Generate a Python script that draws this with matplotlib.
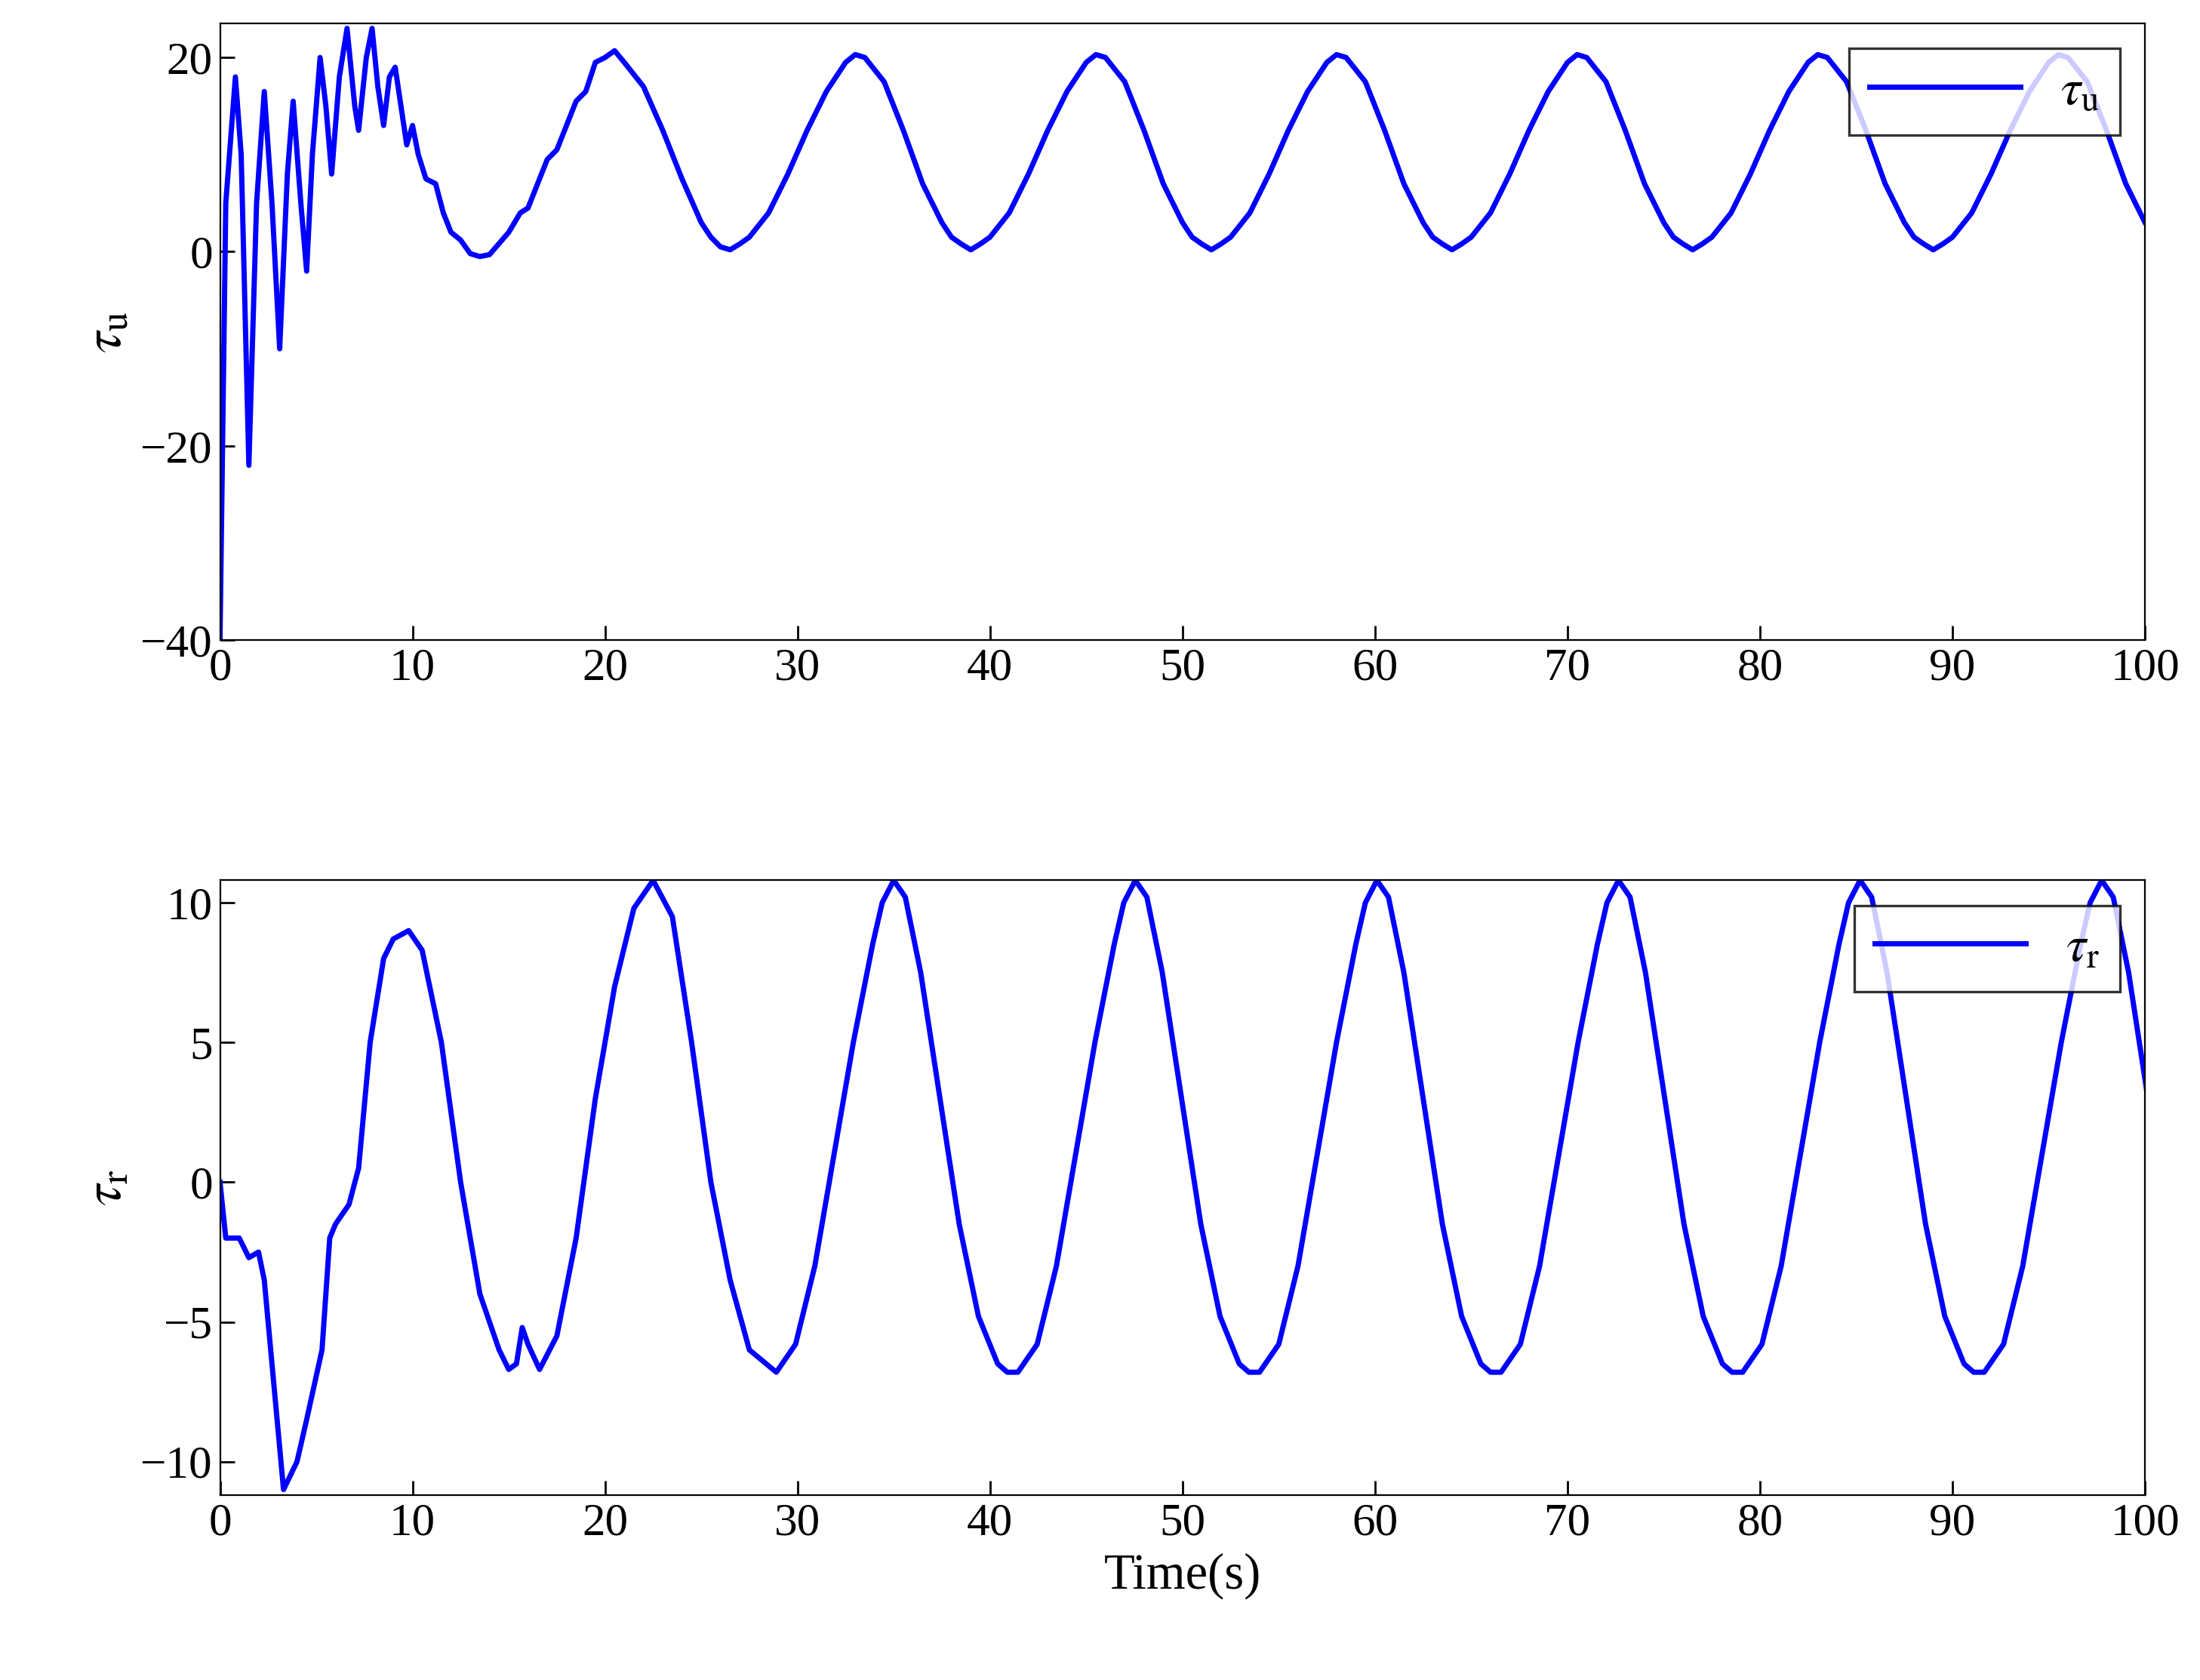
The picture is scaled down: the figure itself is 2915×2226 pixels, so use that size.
import matplotlib
matplotlib.use("Agg")
import matplotlib.pyplot as plt
import numpy as np

plt.rcParams.update({
    "font.family": "Liberation Serif",
    "mathtext.fontset": "stix",
    "font.size": 22,
    "xtick.direction": "in",
    "ytick.direction": "in",
})

# tau_u: transient part
tu_t0 = [0, 0.3, 0.8, 1.1, 1.5, 1.9, 2.3, 2.7, 3.1, 3.5, 3.8, 4.2, 4.5, 4.8, 5.2, 5.5,
         5.8, 6.2, 6.6, 7.0, 7.2, 7.6, 7.9, 8.2, 8.5, 8.8, 9.1, 9.4, 9.7, 10.0, 10.3,
         10.7, 11.2, 11.6, 12.0, 12.5, 13.0, 13.5, 14.0, 15.0, 15.6, 16.0, 16.5, 17.0,
         17.5, 18.0, 18.5, 19.0, 19.5, 20.0, 20.5, 21.0, 22.0, 23.0, 24.0, 25.0, 25.5, 26.0]
tu_v0 = [-40, 5, 18, 10, -22, 5, 16.5, 5, -10, 8, 15.5, 5, -2, 10, 20, 15,
         8, 18, 23, 15, 12.5, 20, 23, 17, 13, 18, 19, 15, 11, 13, 10,
         7.5, 7, 4, 2, 1.2, -0.2, -0.5, -0.3, 2, 4, 4.5, 7, 9.5,
         10.5, 13, 15.5, 16.5, 19.5, 20, 20.7, 19.5, 17, 12.5, 7.5, 3, 1.5, 0.5]
# one steady cycle of tau_u, offsets from a trough
tu_cyc_dt = [0, 0.5, 1, 2, 3, 4, 5, 6, 6.5, 7, 8, 9, 10, 11, 11.5, 12]
tu_cyc_v = [0.2, 0.8, 1.5, 4, 8, 12.5, 16.5, 19.5, 20.3, 20, 17.5, 12.5, 7, 3, 1.5, 0.8]
tu_troughs = [26.5, 39.0, 51.5, 64.0, 76.5, 89.0]

# tau_r: transient part
tr_t0 = [0, 0.3, 1.0, 1.5, 2.0, 2.3, 3.3, 4.0, 4.5, 5.3, 5.7, 6.0, 6.7, 7.2, 7.8, 8.5,
         9.0, 9.8, 10.5, 11.5, 12.5, 13.5, 14.5, 15.0, 15.4, 15.7, 16.0, 16.6, 17.5,
         18.5, 19.5, 20.5, 21.5, 22.5, 23.5, 24.5, 25.5, 26.5, 27.5]
tr_v0 = [0, -2, -2, -2.7, -2.5, -3.5, -11, -10, -8.5, -6, -2, -1.5, -0.8, 0.5, 5, 8,
         8.7, 9, 8.3, 5, 0, -4, -6, -6.7, -6.5, -5.2, -5.8, -6.7, -5.5,
         -2, 3, 7, 9.8, 10.8, 9.5, 5, 0, -3.5, -6]
tr_cyc_dt = [0, 1, 2, 3, 4, 5, 5.5, 6.1, 6.7, 7.5, 8.5, 9.5, 10.5, 11.5, 12.0]
tr_cyc_v = [-6.8, -5.8, -3, 1, 5, 8.5, 10, 10.8, 10.2, 7.5, 3, -1.5, -4.8, -6.5, -6.8]
tr_troughs = [28.9, 41.45, 54.0, 66.55, 79.1, 91.65]

tu_t, tu_v = list(tu_t0), list(tu_v0)
for t0 in tu_troughs:
    for dt, v in zip(tu_cyc_dt, tu_cyc_v):
        tu_t.append(t0 + dt); tu_v.append(v)
tr_t, tr_v = list(tr_t0), list(tr_v0)
for t0 in tr_troughs:
    for dt, v in zip(tr_cyc_dt, tr_cyc_v):
        tr_t.append(t0 + dt); tr_v.append(v)
tr_t += [101.7, 102.5]; tr_v += [-5.8, -3]
tu_t = np.array(tu_t); tu_v = np.array(tu_v)
tr_t = np.array(tr_t); tr_v = np.array(tr_v)

fig = plt.figure(figsize=(14.575, 11.13), dpi=200)
ax1 = fig.add_axes([0.100, 0.619, 0.875, 0.367])
ax2 = fig.add_axes([0.100, 0.110, 0.875, 0.366])

ax1.plot(tu_t, tu_v, color="#0000ff", lw=2.5, label=r"$\tau_{\rm u}$")
ax1.set_xlim(0, 100); ax1.set_ylim(-40, 23.5)
ax1.set_yticks([-40, -20, 0, 20])
ax1.set_yticklabels(["\u221240", "\u221220", "0", "20"])
ax1.set_ylabel(r"$\tau_{\rm u}$", fontsize=26)

ax2.plot(tr_t, tr_v, color="#0000ff", lw=2.5, label=r"$\tau_{\rm r}$")
ax2.set_xlim(0, 100); ax2.set_ylim(-11.2, 10.8)
ax2.set_yticks([-10, -5, 0, 5, 10])
ax2.set_yticklabels(["\u221210", "\u22125", "0", "5", "10"])
ax2.set_ylabel(r"$\tau_{\rm r}$", fontsize=26)
ax2.set_xlabel("Time(s)", fontsize=24)

for ax in (ax1, ax2):
    ax.set_xticks(range(0, 101, 10))
    ax.tick_params(top=False, right=False, length=7, width=1)
    leg = ax.legend(loc="upper right", fancybox=False, edgecolor="black",
                    fontsize=24, handlelength=3)
    leg.get_frame().set_linewidth(1.2)

fig.savefig("out.png")
